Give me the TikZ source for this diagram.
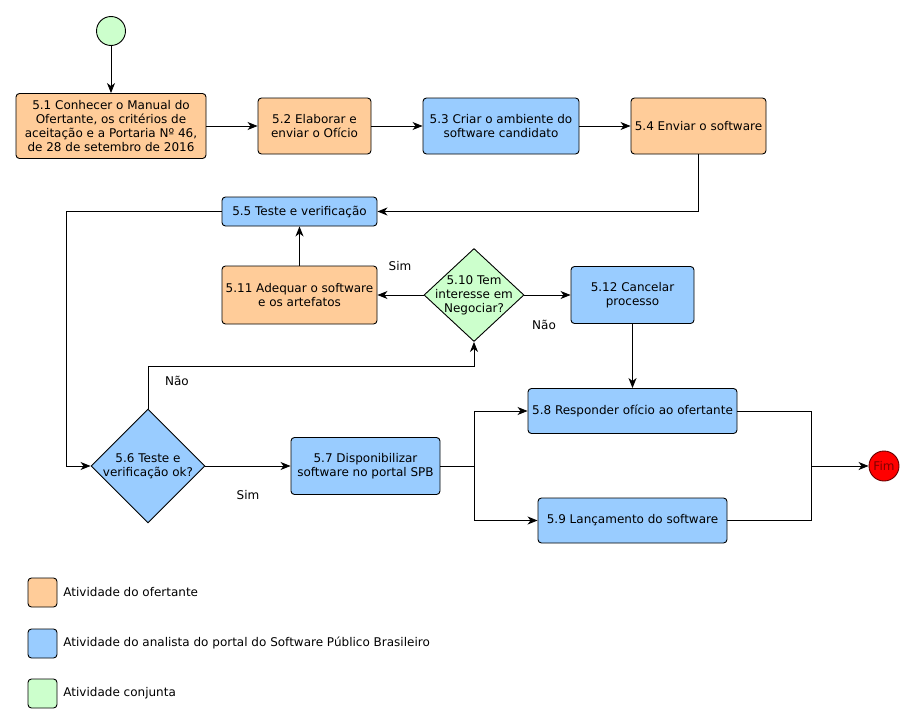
\documentclass[tikz,border=0pt]{standalone}
\usepackage{fontspec}
\setmainfont{DejaVu Sans}
\usepackage{tikz}
\usetikzlibrary{shapes, arrows, arrows.meta}
\definecolor{ofertante}{HTML}{FFCC99}
\definecolor{analista}{HTML}{99CCFF}
\definecolor{conjunta}{HTML}{CCFFCC}
\tikzstyle{activity} = [rectangle, rounded corners=3.5pt, draw=black, align=center, inner sep=0pt]
\tikzstyle{decision} = [diamond, draw=black, inner sep=0pt]
\tikzstyle{legendbox} = [rectangle, rounded corners=3.5pt, draw=black, minimum width=29pt, minimum height=29pt]
\tikzstyle{arrow} = [->,>={Stealth[length=10pt, width=8pt, inset=3pt]}]

\begin{document}
\begin{tikzpicture}[x=1pt, y=-1pt, line width=0.9pt, font=\fontsize{12}{14}\selectfont]
\useasboundingbox (0,0) rectangle (915,725);

\node[circle, draw=black, fill=conjunta, minimum size=29pt, inner sep=0pt] (inicio) at (111,31) {};
\node[activity, fill=ofertante, minimum width=190pt, minimum height=65pt] (a51) at (111,126) {5.1 Conhecer o Manual do\\Ofertante, os critérios de\\aceitação e a Portaria Nº 46,\\de 28 de setembro de 2016};
\node[activity, fill=ofertante, minimum width=113pt, minimum height=56pt] (a52) at (314.5,126) {5.2 Elaborar e\\enviar o Ofício};
\node[activity, fill=analista, minimum width=156pt, minimum height=56pt] (a53) at (501,126) {5.3 Criar o ambiente do\\software candidato};
\node[activity, fill=ofertante, minimum width=135pt, minimum height=56pt] (a54) at (698.5,126) {5.4 Enviar o software};
\node[activity, fill=analista, minimum width=155pt, minimum height=29pt] (a55) at (299.5,211.5) {5.5 Teste e verificação};
\node[activity, fill=ofertante, minimum width=155pt, minimum height=58pt] (a511) at (299.5,295) {5.11 Adequar o software\\e os artefatos};
\node[decision, fill=conjunta, minimum width=100pt, minimum height=93pt, label={[align=center]center:5.10 Tem\\interesse em\\Negociar?}] (d510) at (474,295) {};
\node[activity, fill=analista, minimum width=123pt, minimum height=57pt] (a512) at (632.5,295) {5.12 Cancelar\\processo};
\node[decision, fill=analista, minimum width=114pt, minimum height=114pt, label={[align=center]center:5.6 Teste e\\verificação ok?}] (d56) at (148,466) {};
\node[activity, fill=analista, minimum width=149pt, minimum height=57pt] (a57) at (365.5,466) {5.7 Disponibilizar\\software no portal SPB};
\node[activity, fill=analista, minimum width=209pt, minimum height=45pt] (a58) at (632.5,411) {5.8 Responder ofício ao ofertante};
\node[activity, fill=analista, minimum width=189pt, minimum height=45pt] (a59) at (632.5,520.5) {5.9 Lançamento do software};
\node[circle, draw=red!40!black, fill=red, minimum size=30pt, inner sep=0pt, text=red!50!black] (fim) at (884,466) {Fim};

% ligacoes
\coordinate (c56) at (66,211.5);
\coordinate (c57) at (474,466);
\coordinate (c58) at (811,466);
\draw[arrow] (inicio) -- (a51);
\draw[arrow] (a51) -- (a52);
\draw[arrow] (a52) -- (a53);
\draw[arrow] (a53) -- (a54);
\draw[arrow] (a54.south) |- (a55.east);
\draw[arrow] (a55.west) -- (c56) |- (d56.west);
\draw[arrow] (a511) -- (a55);
\draw[arrow] (d510.west) -- (a511.east);
\draw[arrow] (d510.east) -- (a512.west);
\draw[arrow] (d56.north) -- (148,366) -| (d510.south);
\draw[arrow] (d56.east) -- (a57.west);
\draw (a57.east) -- (c57);
\draw[arrow] (c57) |- (a58.west);
\draw[arrow] (c57) |- (a59.west);
\draw[arrow] (a512) -- (a58);
\draw (a58.east) -| (c58);
\draw (a59.east) -| (c58);
\draw[arrow] (c58) -- (fim);

% rotulos
\node (sim1) at (400,266) {Sim};
\node (nao1) at (544,325) {Não};
\node (nao2) at (177,381) {Não};
\node (sim2) at (248,495) {Sim};

% legenda
\node[legendbox, fill=ofertante] (leg1) at (42.5,592.5) {};
\node[legendbox, fill=analista] (leg2) at (42.5,643.5) {};
\node[legendbox, fill=conjunta] (leg3) at (42.5,693.5) {};
\node[anchor=west, inner sep=0pt] (txt1) at (63,592) {Atividade do ofertante};
\node[anchor=west, inner sep=0pt] (txt2) at (63,643) {Atividade do analista do portal do Software Público Brasileiro};
\node[anchor=west, inner sep=0pt] (txt3) at (63,693) {Atividade conjunta};
\end{tikzpicture}
\end{document}
